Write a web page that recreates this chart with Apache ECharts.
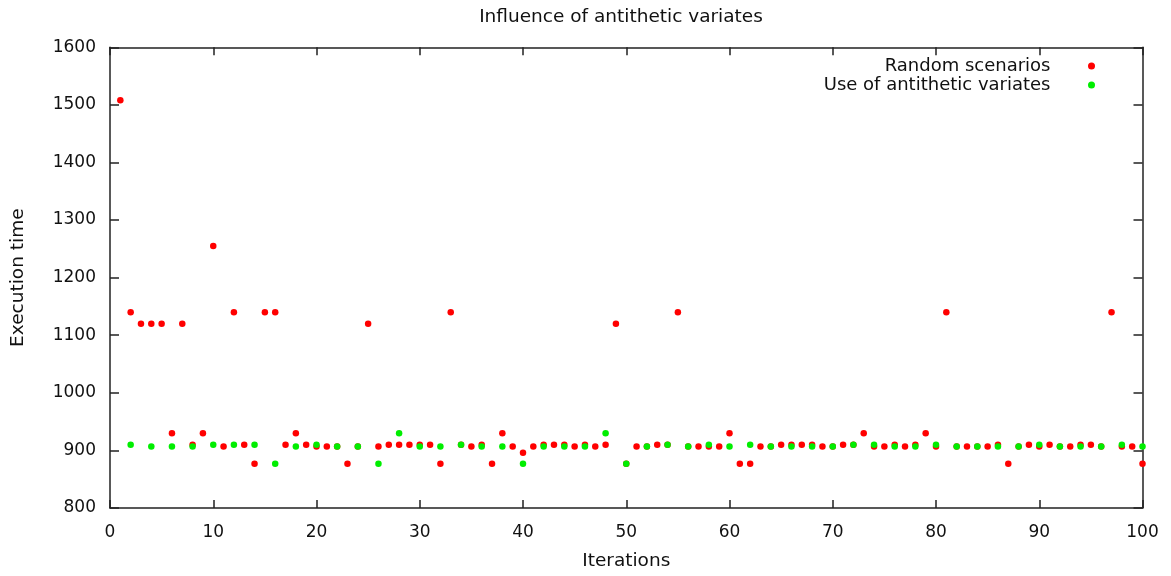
<!DOCTYPE html>
<html>
<head>
<meta charset="utf-8">
<script src="https://cdn.jsdelivr.net/npm/echarts@6/dist/echarts.min.js"></script>
<style>
  html, body { margin: 0; padding: 0; background: #fff; }
  #chart { width: 1171px; height: 576px; }
</style>
</head>
<body>
<div id="chart"></div>
<script>
// Execution time per iteration (iterations 1..100)
const randomScenarios = [
  1508, 1140, 1120, 1120, 1120, 930, 1120, 910, 930, 1255,
  907, 1140, 910, 877, 1140, 1140, 910, 930, 910, 907,
  907, 907, 877, 907, 1120, 907, 910, 910, 910, 910,
  910, 877, 1140, 910, 907, 910, 877, 930, 907, 896,
  907, 910, 910, 910, 907, 910, 907, 910, 1120, 877,
  907, 907, 910, 910, 1140, 907, 907, 907, 907, 930,
  877, 877, 907, 907, 910, 910, 910, 910, 907, 907,
  910, 910, 930, 907, 907, 910, 907, 910, 930, 907,
  1140, 907, 907, 907, 907, 910, 877, 907, 910, 907,
  910, 907, 907, 910, 910, 907, 1140, 907, 907, 877
];
// Antithetic runs come in pairs: one value per even iteration (2, 4, ..., 100)
const antitheticVariates = [
  910, 907, 907, 907, 910, 910, 910, 877, 907, 910,
  907, 907, 877, 930, 907, 907, 910, 907, 907, 877,
  907, 907, 907, 930, 877, 907, 910, 907, 910, 907,
  910, 907, 907, 907, 907, 910, 910, 907, 907, 910,
  907, 907, 907, 907, 910, 907, 907, 907, 910, 907
];

const font = 'DejaVu Sans, Verdana, sans-serif';
const textColor = '#111';
const axisColor = '#222';

const redData = randomScenarios.map((v, i) => [i + 1, v]);
const greenData = antitheticVariates.map((v, i) => [2 * (i + 1), v]);

const xCommon = {
  type: 'value', min: 0, max: 100, interval: 10,
  axisLine: { show: true, onZero: false, lineStyle: { color: axisColor, width: 1.5 } },
  axisTick: { show: true, inside: true, length: 8, lineStyle: { color: axisColor, width: 1.5 } },
  splitLine: { show: false }
};
const yCommon = {
  type: 'value', min: 800, max: 1600, interval: 100,
  axisLine: { show: true, onZero: false, lineStyle: { color: axisColor, width: 1.5 } },
  axisTick: { show: true, inside: true, length: 9, lineStyle: { color: axisColor, width: 1.5 } },
  splitLine: { show: false }
};

const chart = echarts.init(document.getElementById('chart'), null, { renderer: 'canvas' });
chart.setOption({
  animation: false,
  backgroundColor: '#fff',
  title: {
    text: 'Influence of antithetic variates',
    left: 616, top: 3, textAlign: 'center',
    textStyle: { fontFamily: font, fontSize: 18.5, fontWeight: 'normal', color: textColor }
  },
  legend: {
    orient: 'vertical',
    align: 'right',
    right: 71, top: 52,
    itemWidth: 72, itemHeight: 7, itemGap: 1,
    textStyle: { fontFamily: font, fontSize: 18, color: textColor, lineHeight: 18 },
    data: ['Random scenarios', 'Use of antithetic variates']
  },
  grid: { left: 110, right: 28.5, top: 47.3, bottom: 67.5, containLabel: false },
  xAxis: [
    Object.assign({}, xCommon, {
      position: 'bottom',
      name: 'Iterations', nameLocation: 'middle', nameGap: 44,
      nameTextStyle: { fontFamily: font, fontSize: 18.5, color: textColor },
      axisLabel: { margin: 16, fontFamily: font, fontSize: 17, color: textColor }
    }),
    Object.assign({}, xCommon, { position: 'top', axisLabel: { show: false } })
  ],
  yAxis: [
    Object.assign({}, yCommon, {
      position: 'left',
      name: 'Execution time', nameLocation: 'middle', nameGap: 82, nameRotate: 90,
      nameTextStyle: { fontFamily: font, fontSize: 18.5, color: textColor },
      axisLabel: { margin: 14, fontFamily: font, fontSize: 17, color: textColor,
        formatter: v => String(v) }
    }),
    Object.assign({}, yCommon, { position: 'right', axisLabel: { show: false } })
  ],
  series: [
    {
      name: 'Random scenarios', type: 'scatter', xAxisIndex: 0, yAxisIndex: 0,
      symbol: 'circle', symbolSize: 6.5,
      itemStyle: { color: '#ff0000', opacity: 1 },
      data: redData
    },
    {
      name: 'Use of antithetic variates', type: 'scatter', xAxisIndex: 0, yAxisIndex: 0,
      symbol: 'circle', symbolSize: 6.5,
      itemStyle: { color: '#00ee00', opacity: 1 },
      data: greenData
    }
  ]
});
</script>
</body>
</html>
